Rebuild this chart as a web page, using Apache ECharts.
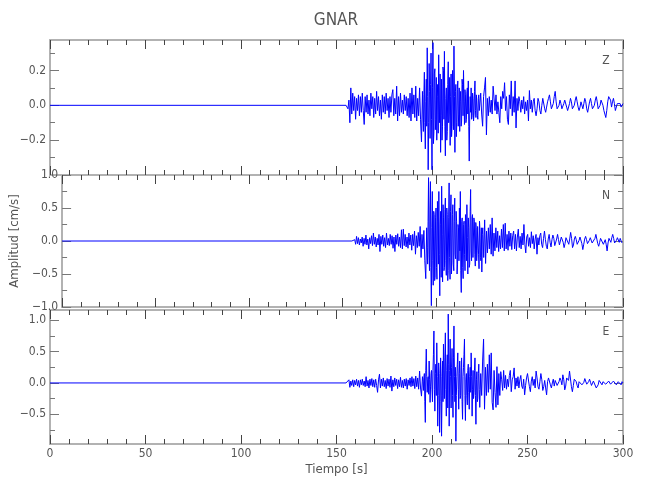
<!DOCTYPE html>
<html>
<head>
<meta charset="utf-8">
<script src="https://cdn.jsdelivr.net/npm/echarts@6/dist/echarts.min.js"></script>
<style>html,body{margin:0;padding:0;background:#fff}#chart{width:650px;height:500px}</style>
</head>
<body>
<div id="chart"></div>
<script>
// ---- data ----
const title = 'GNAR';
const channels = ['Z', 'N', 'E'];
const xLabel = 'Tiempo [s]';
const yLabel = 'Amplitud [cm/s]';
const xTicks = [0, 50, 100, 150, 200, 250, 300];
const quietStart = 0;              // record start, flat until the P onset
const segStart = [155, 195, 225];  // start time (s) of early / strong / coda samples
const segStep = [0.5, 0.25, 0.5];  // sample spacing (s) of each segment

const zMajor = [-0.2, 0.0, 0.2];
const zMinor = [-0.3, -0.1, 0.1, 0.3];
const nMajor = [-1.0, -0.5, 0.0, 0.5, 1.0];
const nMinor = [-0.75, -0.25, 0.25, 0.75];
const eMajor = [-0.5, 0.0, 0.5, 1.0];
const eMinor = [-0.75, -0.25, 0.25, 0.75];
const zRange = [-0.4, 0.375];
const nRange = [-1.0, 1.0];
const eRange = [-0.975, 1.165];

// Z component
const zEarly = [
 0, 0.01, -0.02, 0.03, -0.10, 0.10, -0.05, 0.07, -0.03, 0.05,
 -0.08, 0.04, -0.03, 0.06, -0.06, 0.05, -0.04, 0.07, -0.03, -0.11,
 0.05, -0.04, 0.06, -0.05, 0.03, -0.06, 0.07, -0.02, 0.05, -0.07,
 0.04, -0.05, 0.08, -0.03, 0.05, -0.06, 0.03, -0.08, 0.06, -0.04,
 0.05, -0.05, 0.07, -0.03, 0.04, -0.07, 0.05, -0.04, 0.06, 0.09,
 -0.06, 0.04, -0.05, 0.11, -0.09, 0.05, -0.06, 0.07, -0.04, 0.03,
 -0.05, 0.06, -0.03, 0.05, -0.06, 0.04, -0.07, 0.07, -0.09, 0.10,
 -0.05, 0.06, -0.07, 0.11, -0.09, 0.04, -0.06, 0.10, -0.08, -0.21
];
const zStrong = [
 0.08, -0.05, -0.15, 0.06, 0.19, -0.10, -0.25, 0.02, 0.15, -0.12, 0.33, 0.05, -0.37, -0.10, 0.24, 0.08, -0.19, 0.12, 0.30, -0.08,
 -0.37, 0.10, 0.36, -0.22, -0.15, 0.18, 0.21, -0.14, -0.08, 0.16, -0.20, 0.05, 0.12, -0.16, 0.29, 0.03, -0.10, 0.18, -0.27, -0.06,
 0.15, -0.20, -0.12, 0.22, 0.20, -0.08, 0.31, -0.12, -0.29, 0.04, 0.10, -0.20, -0.15, 0.12, 0.25, -0.10, -0.05, 0.16, -0.23, 0.05,
 0.18, -0.18, -0.12, 0.20, 0.10, -0.14, 0.34, 0.05, -0.27, 0.08, 0.12, -0.18, -0.10, 0.09, 0.14, -0.12, -0.05, 0.10, -0.15, 0.02,
 0.08, -0.12, -0.09, 0.15, 0.12, -0.06, 0.20, 0.02, -0.11, 0.09, 0.06, -0.10, -0.08, 0.07, 0.10, -0.05, 0.14, -0.12, -0.32, -0.05,
 0.05, -0.04, 0.10, -0.08, -0.06, 0.07, 0.04, -0.09, -0.05, 0.08, 0.14, -0.03, -0.07, 0.06, 0.05, -0.06, -0.08, 0.04, 0.06, -0.03
];
const zCoda = [
 -0.04, 0.07, -0.05, -0.12, 0.05, 0.10, 0.16, -0.17, 0.04, -0.06,
 0.05, -0.04, 0.03, -0.05, 0.11, 0.12, -0.03, 0.06, -0.05, 0.02,
 -0.04, -0.10, 0.05, -0.02, 0.08, 0.04, 0.13, -0.03, 0.05, -0.08,
 -0.11, 0.06, -0.02, 0.14, -0.06, 0.05, -0.04, 0.14, -0.13, 0.04,
 -0.03, 0.05, 0.02, -0.04, 0.03, -0.02, 0.05, -0.05, 0.02, -0.03,
 0.03, -0.09, 0.085, -0.02, 0.03, -0.04, 0.02, 0.04, -0.03, -0.06,
 -0.02, 0.04, 0.02, -0.03, -0.05, 0.00, 0.04, 0.03, -0.02, -0.04,
 -0.01, 0.02, 0.04, 0.06, 0.02, -0.02, -0.03, 0.01, 0.05, 0.08,
 0.02, -0.02, -0.03, 0.00, 0.03, 0.01, -0.02, -0.03, 0.01, 0.03,
 0.02, -0.01, -0.03, -0.02, 0.01, 0.04, 0.02, -0.02, -0.03, 0.00,
 0.03, 0.05, 0.02, -0.01, -0.03, -0.01, 0.02, 0.01, -0.02, 0.01,
 0.04, 0.02, -0.02, -0.04, -0.01, 0.02, 0.04, 0.01, -0.02, -0.03,
 0.00, 0.03, 0.05, 0.02, -0.02, -0.03, 0.00, 0.03, 0.04, 0.00,
 -0.03, -0.05, -0.07, -0.03, 0.02, 0.05, 0.06, 0.03, -0.01, 0.02,
 0.04, 0.01, -0.03, -0.02, 0.01, 0.02, 0.00, 0.01, -0.01, 0.00, 0.01
];

// N component
const nEarly = [
 0, 0, 0, 0.02, -0.05, 0.07, -0.04, 0.05, -0.06, 0.03,
 -0.03, 0.06, -0.08, 0.04, -0.05, 0.09, -0.06, 0.03, -0.12, 0.05,
 -0.04, 0.08, -0.07, 0.12, -0.05, 0.06, -0.09, 0.04, -0.06, 0.10,
 -0.16, 0.07, -0.05, 0.09, -0.08, 0.05, -0.10, 0.12, -0.06, 0.04,
 -0.07, 0.10, -0.05, 0.08, -0.11, 0.06, -0.16, 0.09, -0.05, 0.11,
 -0.08, 0.06, -0.10, 0.17, -0.12, 0.18, -0.07, 0.10, -0.09, 0.06,
 -0.11, 0.12, -0.06, 0.09, -0.14, 0.10, -0.07, 0.15, -0.20, 0.08,
 -0.10, 0.13, -0.08, 0.22, -0.25, 0.10, -0.12, 0.16, -0.30, -0.57
];
const nStrong = [
 0.20, -0.10, -0.35, 0.30, 0.96, -0.20, -0.45, 0.50, 0.90, -0.40, -0.98, 0.20, 0.75, -0.30, -0.67, 0.45, 0.40, -0.60, -0.55, 0.35,
 0.50, -0.40, -0.58, 0.60, 0.30, -0.35, 0.75, -0.20, -0.83, 0.25, 0.45, -0.55, 0.83, 0.10, -0.62, 0.55, 0.35, -0.45, -0.40, 0.48,
 0.65, -0.30, -0.52, 0.50, 0.40, -0.60, -0.45, 0.35, 0.88, -0.25, -0.58, 0.45, 0.70, -0.50, -0.30, 0.40, 0.55, -0.35, -0.45, 0.30,
 0.65, -0.20, -0.27, 0.45, 0.30, -0.50, -0.35, 0.25, 0.20, -0.30, 0.50, -0.15, 0.75, -0.45, -0.78, 0.30, 0.35, -0.40, -0.57, 0.25,
 0.30, -0.20, -0.45, 0.40, 0.25, -0.30, 0.55, 0.05, -0.50, 0.35, 0.20, -0.40, -0.35, 0.45, 0.78, -0.15, -0.30, 0.35, 0.40, -0.25,
 -0.25, 0.35, 0.30, -0.20, -0.38, 0.28, 0.20, -0.30, -0.15, 0.22, 0.25, -0.20, -0.42, 0.30, 0.15, -0.25, -0.30, 0.20, -0.47, 0.10
];
const nCoda = [
 0.20, -0.25, 0.32, -0.34, 0.15, -0.18, 0.20, -0.12, 0.25, -0.20,
 0.35, -0.23, 0.12, -0.15, 0.20, -0.10, 0.15, -0.16, 0.08, -0.12,
 0.18, -0.10, 0.25, -0.15, 0.27, -0.12, 0.10, -0.14, 0.15, -0.08,
 0.12, -0.13, 0.08, 0.15, -0.12, 0.10, -0.15, 0.06, 0.18, -0.10,
 0.07, -0.12, 0.12, -0.06, 0.25, -0.05, -0.18, 0.06, 0.10, -0.08,
 0.05, -0.10, 0.14, -0.04, 0.08, -0.12, 0.03, 0.10, -0.20, 0.05,
 -0.06, 0.08, 0.12, -0.05, -0.10, 0.04, 0.15, 0.02, -0.08, -0.12,
 0.03, 0.10, -0.02, -0.09, 0.02, 0.09, 0.04, -0.07, -0.09, 0.03,
 0.10, 0.02, -0.06, -0.03, 0.06, 0.08, -0.02, -0.10, -0.04, 0.05,
 0.08, 0.02, -0.05, 0.03, 0.13, 0.04, -0.10, -0.06, 0.03, 0.07,
 0.02, -0.05, -0.08, 0.01, 0.06, 0.04, -0.04, -0.13, -0.05, 0.03,
 0.07, 0.02, -0.04, -0.06, 0.01, 0.05, 0.02, -0.03, -0.05, 0.00,
 0.04, 0.10, 0.03, -0.04, -0.08, -0.02, 0.04, 0.06, 0.01, -0.05,
 -0.03, 0.02, -0.05, -0.15, -0.03, 0.04, 0.03, -0.02, 0.05, 0.10,
 0.04, -0.03, -0.06, 0.01, 0.05, 0.03, -0.02, 0.04, 0.00, -0.03, 0.01
];

// E component
const eEarly = [
 0, 0, 0, 0.05, -0.07, 0.03, -0.04, 0.05, -0.06, 0.04,
 -0.03, 0.06, -0.05, 0.04, -0.07, 0.05, -0.03, 0.06, -0.04, 0.03,
 -0.06, 0.10, -0.05, 0.04, -0.08, 0.06, -0.04, 0.07, -0.06, 0.05,
 -0.07, 0.06, -0.04, -0.15, 0.05, 0.14, -0.08, 0.06, -0.05, 0.08,
 -0.06, 0.04, -0.09, 0.07, -0.05, 0.06, -0.07, 0.11, -0.13, 0.05,
 -0.06, 0.08, -0.04, 0.06, -0.09, 0.05, -0.06, 0.09, -0.07, 0.04,
 -0.08, 0.06, -0.05, 0.07, -0.10, 0.05, -0.04, 0.08, -0.06, 0.10,
 -0.05, 0.07, -0.09, 0.11, -0.06, 0.08, -0.10, 0.19, -0.08, -0.21
];
const eStrong = [
 0.10, 0.02, -0.12, 0.08, 0.15, -0.30, -0.63, 0.20, 0.54, 0.10, -0.15, 0.05, 0.10, -0.18, 0.35, 0.05, -0.31, -0.05, 0.15, 0.20,
 -0.10, -0.30, 0.20, 0.45, 0.83, -0.10, -0.45, 0.15, 0.30, -0.20, 0.64, 0.10, -0.69, -0.20, 0.32, 0.15, -0.79, -0.30, 0.40, 0.10,
 -0.85, -0.20, 0.35, -0.30, 0.62, 0.20, -0.25, 0.40, 0.80, -0.10, -0.53, 0.20, 0.45, -0.40, 1.10, 0.30, -0.69, 0.20, 0.70, 0.10,
 -0.40, 0.25, 0.55, -0.20, -0.55, 0.40, 0.91, 0.10, -0.30, 0.25, -0.93, -0.20, 0.10, 0.30, 0.48, -0.10, -0.42, 0.15, 0.35, -0.25,
 -0.20, 0.25, 0.40, -0.30, -0.58, 0.10, 0.25, 0.45, 0.70, -0.20, -0.60, 0.05, 0.15, -0.20, -0.35, 0.20, 0.30, -0.15, -0.42, 0.10,
 0.25, -0.15, 0.48, 0.10, -0.53, -0.10, 0.20, -0.25, -0.15, 0.20, 0.40, -0.20, -0.66, 0.05, 0.18, -0.30, -0.25, 0.15, 0.30, -0.10
];
const eCoda = [
 -0.39, 0.15, -0.20, 0.35, 0.70, -0.42, 0.25, -0.20, 0.30, -0.15,
 0.45, -0.10, 0.48, -0.31, -0.43, 0.20, -0.15, -0.39, 0.26, -0.35,
 0.15, -0.20, 0.18, 0.05, -0.12, 0.20, -0.08, 0.12, -0.10, 0.06,
 -0.06, 0.12, 0.20, -0.14, 0.05, 0.10, 0.24, -0.10, 0.08, -0.05,
 0.10, -0.08, 0.05, 0.12, -0.05, -0.09, 0.06, -0.19, -0.04, 0.08,
 0.15, 0.18, -0.06, -0.14, 0.03, 0.10, -0.04, 0.06, -0.08, 0.19,
 0.08, -0.06, -0.10, 0.02, 0.15, 0.05, -0.12, -0.06, 0.04, -0.08,
 -0.19, 0.02, 0.08, 0.10, -0.03, -0.08, 0.00, 0.06, -0.05, 0.04,
 0.06, -0.04, -0.06, 0.02, 0.08, 0.04, -0.03, 0.13, 0.05, -0.11,
 -0.05, 0.08, 0.10, 0.04, 0.19, 0.18, -0.06, -0.14, -0.04, 0.06,
 0.08, 0.02, -0.04, -0.08, 0.02, 0.05, 0.03, -0.03, -0.06, 0.01,
 0.07, 0.04, -0.02, -0.05, 0.02, 0.06, 0.01, -0.04, -0.03, 0.03,
 0.05, 0.00, -0.08, -0.11, -0.03, 0.04, 0.06, 0.01, -0.03, 0.02,
 0.05, 0.02, -0.02, -0.04, 0.01, 0.03, 0.04, -0.02, -0.04, 0.00,
 0.03, 0.05, 0.01, -0.03, -0.02, 0.02, 0.04, -0.01, -0.03, 0.02, 0.00
];

// ---- chart ----
const FONT = "'Liberation Sans Narrow','DejaVu Sans Condensed','Roboto Condensed','Liberation Sans',sans-serif";
const TXT = '#555';
const AXIS_GRAY = '#b2b2b2';

function toSeriesData(segments) {
  const d = [[quietStart, 0]];
  segments.forEach((vals, s) => {
    vals.forEach((v, i) => d.push([segStart[s] + i * segStep[s], v]));
  });
  return d;
}
const fmt = v => (Math.abs(v) < 1e-9 ? 0 : v).toFixed(1).replace('-', '\u2212');

const grids = [
  { left: 50, right: 27, top: 40, height: 135 },
  { left: 50, right: 27, top: 175, height: 132 },
  { left: 50, right: 27, top: 310, height: 134 }
];
const ranges = [zRange, nRange, eRange];
const majors = [zMajor, nMajor, eMajor];
const minors = [zMinor, nMinor, eMinor];
const values = [[zEarly, zStrong, zCoda], [nEarly, nStrong, nCoda], [eEarly, eStrong, eCoda]];

const xAxes = [], yAxes = [], series = [];
grids.forEach((g, i) => {
  ['bottom', 'top'].forEach(pos => {
    xAxes.push({
      type: 'value', gridIndex: i, position: pos,
      min: xTicks[0], max: xTicks[xTicks.length - 1], interval: xTicks[1] - xTicks[0],
      axisLine: { show: true, onZero: false, lineStyle: { color: AXIS_GRAY, width: 2 } },
      axisTick: { show: true, inside: true, length: 9, lineStyle: { color: '#444', width: 1 } },
      minorTick: { show: true, splitNumber: 5, length: 5, lineStyle: { color: '#444', width: 1 } },
      splitLine: { show: false },
      axisLabel: { show: (i === 2 && pos === 'bottom'), color: TXT, fontFamily: FONT, fontSize: 12, margin: 4 },
      name: (i === 2 && pos === 'bottom') ? xLabel : '',
      nameLocation: 'middle', nameGap: 19,
      nameTextStyle: { color: TXT, fontFamily: FONT, fontSize: 13 }
    });
  });
  const r = ranges[i];
  ['left', 'right'].forEach(pos => {
    yAxes.push({
      type: 'value', gridIndex: i, position: pos, min: r[0], max: r[1],
      axisLine: { show: true, onZero: false, lineStyle: { color: AXIS_GRAY, width: 2 } },
      axisTick: { show: true, inside: true, length: 9, customValues: majors[i], lineStyle: { color: '#777', width: 1 } },
      splitLine: { show: false },
      axisLabel: { show: pos === 'left', customValues: majors[i], formatter: fmt, color: TXT, fontFamily: FONT, fontSize: 12, margin: 4 },
      name: (i === 1 && pos === 'left') ? yLabel : '',
      nameLocation: 'middle', nameGap: 30,
      nameTextStyle: { color: TXT, fontFamily: FONT, fontSize: 13 }
    });
    yAxes.push({
      type: 'value', gridIndex: i, position: pos, min: r[0], max: r[1],
      axisLine: { show: false, onZero: false },
      axisTick: { show: true, inside: true, length: 5, customValues: minors[i], lineStyle: { color: '#777', width: 1 } },
      splitLine: { show: false },
      axisLabel: { show: false }
    });
  });
  series.push({
    type: 'line', name: channels[i],
    xAxisIndex: 2 * i, yAxisIndex: 4 * i,
    data: toSeriesData(values[i]),
    showSymbol: false, symbol: 'none',
    lineStyle: { color: '#0000ff', width: 1 },
    animation: false
  });
});

const chart = echarts.init(document.getElementById('chart'), null, { renderer: 'canvas' });
chart.setOption({
  animation: false,
  backgroundColor: '#fff',
  grid: grids,
  xAxis: xAxes,
  yAxis: yAxes,
  series: series,
  graphic: [
    { type: 'text', x: 336, y: 21, style: { text: title, fill: TXT, font: '17px ' + FONT, textAlign: 'center', textVerticalAlign: 'middle' } },
    { type: 'text', x: 606, y: 61, style: { text: channels[0], fill: TXT, font: '12px ' + FONT, textAlign: 'center', textVerticalAlign: 'middle' } },
    { type: 'text', x: 606, y: 196, style: { text: channels[1], fill: TXT, font: '12px ' + FONT, textAlign: 'center', textVerticalAlign: 'middle' } },
    { type: 'text', x: 606, y: 332, style: { text: channels[2], fill: TXT, font: '12px ' + FONT, textAlign: 'center', textVerticalAlign: 'middle' } }
  ]
});
</script>
</body>
</html>
